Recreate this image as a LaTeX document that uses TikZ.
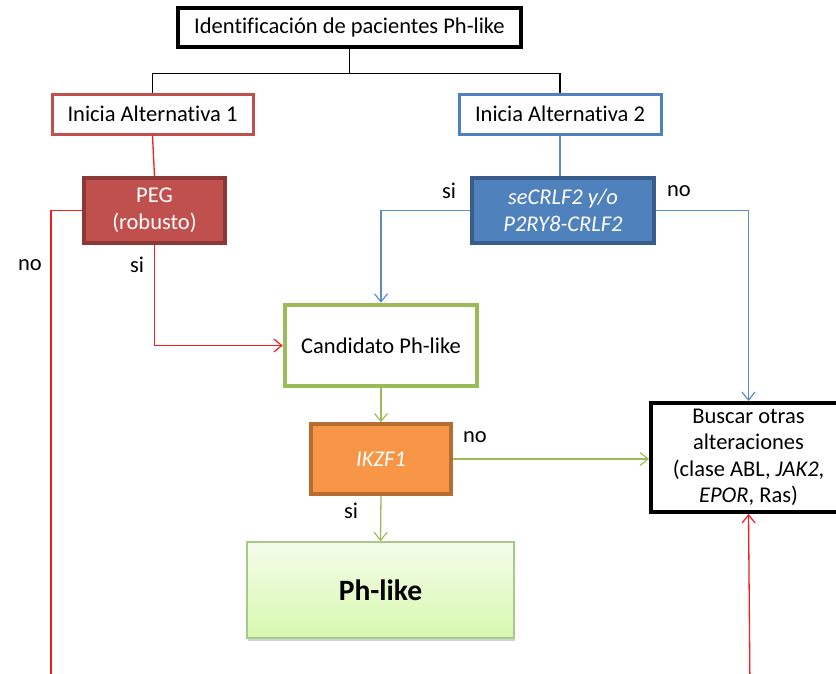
\documentclass[tikz,border=0pt]{standalone}
\usepackage{fontspec}
\setmainfont{Carlito}[Ligatures={NoCommon}]
\usetikzlibrary{arrows.meta,shadows}
\definecolor{cred}{HTML}{C0504D}
\definecolor{credd}{HTML}{8C3836}
\definecolor{cblue}{HTML}{4F81BD}
\definecolor{cblued}{HTML}{385D8A}
\definecolor{cgreen}{HTML}{9BBB59}
\definecolor{corange}{HTML}{F79646}
\definecolor{corangedd}{HTML}{B66D31}
\definecolor{lred}{HTML}{F01E1E}
\definecolor{lblue}{HTML}{5B8CC8}
\definecolor{phtop}{HTML}{F4FCEA}
\definecolor{phbot}{HTML}{D7F8AE}
\definecolor{phline}{HTML}{A8C98C}
\begin{document}
\begin{tikzpicture}[x=1pt,y=-1pt,
  every node/.style={font=\fontsize{22.5}{27}\selectfont, align=center, inner sep=0pt},
  lbl/.style={font=\fontsize{22.5}{27}\selectfont},
  tip/.style={-{Straight Barb[length=8pt,width=13pt,line width=1.2pt]}},
  conn/.style={line width=1.3pt}
]
\useasboundingbox (0,0) rectangle (836,673);
\clip (0,0) rectangle (836,673);

\node[draw=black, line width=3.5pt, minimum width=343pt, minimum height=39pt] (title) at (349.5,27.5) {Identificación de pacientes Ph-like};
\node[draw=cred, line width=3pt, minimum width=201pt, minimum height=40pt] (alt1) at (152.5,114) {Inicia Alternativa 1};
\node[draw=cblue, line width=3pt, minimum width=202pt, minimum height=40pt] (alt2) at (560,114) {Inicia Alternativa 2};
\node[draw=credd, fill=cred, line width=3.5pt, minimum width=141pt, minimum height=65pt, text=white] (peg) at (154.5,210.5) {PEG\\(robusto)};
\node[draw=cblued, fill=cblue, line width=3.5pt, minimum width=182pt, minimum height=65pt, text=white] (sec) at (563,210.5) {\textit{seCRLF2 y/o}\\\textit{P2RY8-CRLF2}};
\node[draw=cgreen, line width=4.5pt, minimum width=192pt, minimum height=81pt] (cand) at (381,345.5) {Candidato Ph-like};
\node[draw=corangedd, fill=corange, line width=3.5pt, minimum width=140pt, minimum height=70pt, text=white] (ikzf) at (381,459) {\textit{IKZF1}};
\node[draw=phline, line width=1.5pt, top color=phtop, bottom color=phbot, minimum width=267pt, minimum height=96pt, drop shadow={shadow xshift=1pt, shadow yshift=-3pt, opacity=0.35}, font=\bfseries\fontsize{29.5}{34}\selectfont] (ph) at (380.5,590) {Ph-like};
\node[draw=black, line width=4pt, minimum width=195pt, minimum height=109pt, font=\fontsize{22.5}{26.5}\selectfont] (busc) at (748.5,457.5) {Buscar otras\\alteraciones\\(clase ABL, \textit{JAK2},\\\textit{EPOR}, Ras)};

\coordinate (bl) at (51,690);
\coordinate (br) at (750,690);

% black
\draw[line width=1.3pt] (title.south) -- ++(0,25) coordinate (tj);
\draw[line width=1.3pt] (alt1.north) |- (tj) -| (alt2.north);
% red
\draw[conn, lred] (alt1.south) -- (peg.north);
\draw[conn, lred] (peg.west) -| (bl);
\draw[conn, lred, tip] (peg.south) |- (cand.west);
\draw[conn, lred, tip] (br) -- (busc.south);
% blue
\draw[conn, lblue] (alt2.south) -- (alt2.south |- sec.north);
\draw[conn, lblue, tip] (sec.west) -| (cand.north);
\draw[conn, lblue, tip] (sec.east) -| (busc.north);
% green
\draw[conn, cgreen, tip] (cand.south) -- (ikzf.north);
\draw[conn, cgreen, tip] (ikzf.east) -- (ikzf.east -| busc.west);
\draw[conn, cgreen, tip] (ikzf.south) -- (ph.north);

% labels
\node[lbl] (l1) at (30,265) {no};
\node[lbl] (l2) at (137,265) {si};
\node[lbl] (l3) at (449,191) {si};
\node[lbl] (l4) at (679,191) {no};
\node[lbl] (l5) at (475,437) {no};
\node[lbl] (l6) at (351,511) {si};
\end{tikzpicture}
\end{document}
